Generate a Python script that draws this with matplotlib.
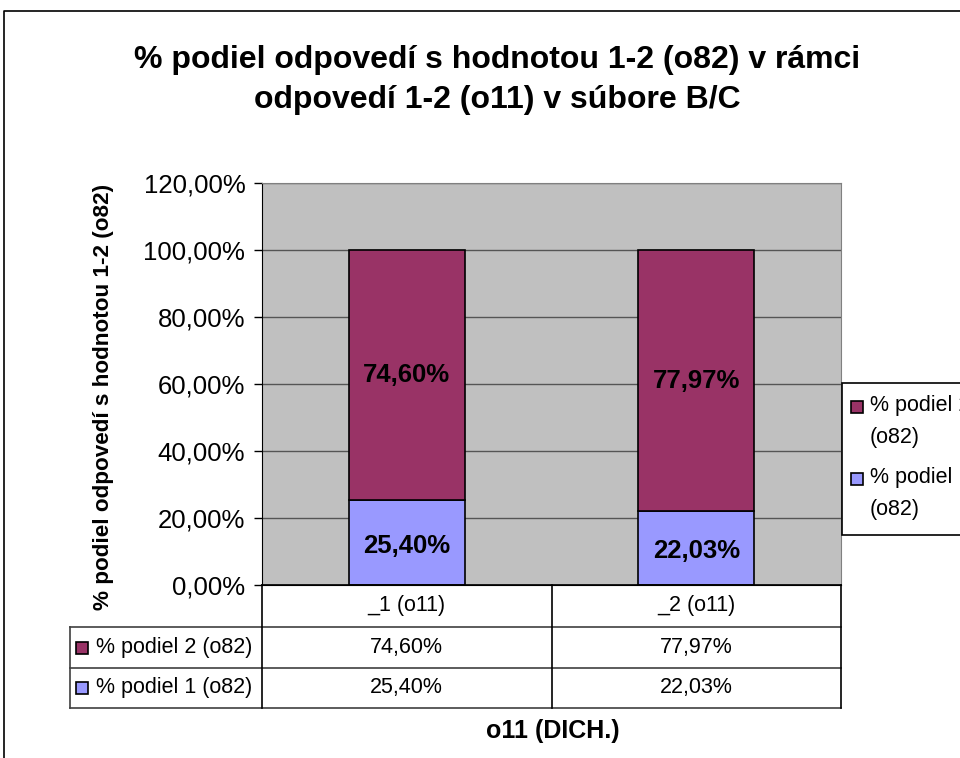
import matplotlib
matplotlib.use("Agg")
import matplotlib.pyplot as plt
from matplotlib.patches import Rectangle
from matplotlib.ticker import FuncFormatter

plt.rcParams['font.family'] = ['Liberation Sans', 'DejaVu Sans']

# data
categories = ["_1 (o11)", "_2 (o11)"]
series_names = ["% podiel 2 (o82)", "% podiel 1 (o82)"]
podiel1 = [25.40, 22.03]
podiel2 = [74.60, 77.97]
colors = {"% podiel 1 (o82)": "#9999FF", "% podiel 2 (o82)": "#993366"}
yticks = [0, 20, 40, 60, 80, 100, 120]

title = "% podiel odpovedí s hodnotou 1-2 (o82) v rámci\nodpovedí 1-2 (o11) v súbore B/C"
ylabel = "% podiel odpovedí s hodnotou 1-2 (o82)"
xlabel = "o11 (DICH.)"

W, H = 960, 758
fig = plt.figure(figsize=(W / 100, H / 100), dpi=100)


def rect(l, t, r, b):
    return [l / W, 1 - b / H, (r - l) / W, (b - t) / H]


def pct(v):
    return f"{v:.2f}".replace(".", ",") + "%"


# plot area
ax_l, ax_t, ax_r, ax_b = 262, 183, 841, 585
ax = fig.add_axes(rect(ax_l, ax_t, ax_r, ax_b))
ax.set_facecolor("#C0C0C0")
x = list(range(len(categories)))
ax.bar(x, podiel1, width=0.4, color=colors["% podiel 1 (o82)"], edgecolor="black", linewidth=1.2, zorder=3)
ax.bar(x, podiel2, width=0.4, bottom=podiel1, color=colors["% podiel 2 (o82)"],
       edgecolor="black", linewidth=1.2, zorder=3)
for i in x:
    ax.text(i, podiel1[i] / 2 - 1, pct(podiel1[i]), ha="center", va="center",
            fontsize=18.5, fontweight="bold", zorder=4)
    ax.text(i, podiel1[i] + podiel2[i] / 2, pct(podiel2[i]), ha="center", va="center",
            fontsize=18.5, fontweight="bold", zorder=4)
ax.set_xlim(-0.5, len(categories) - 0.5)
ax.set_ylim(0, 120)
ax.set_yticks(yticks)
ax.yaxis.set_major_formatter(FuncFormatter(lambda v, p: pct(v)))
ax.tick_params(axis="y", labelsize=18.5, length=6, width=1, direction="out", pad=6)
ax.set_xticks([])
ax.grid(axis="y", color="#555555", linewidth=1, zorder=1)
for s in ["top", "right"]:
    ax.spines[s].set_color("#808080")
for s in ["left", "bottom"]:
    ax.spines[s].set_color("black")
ax.set_ylabel(ylabel, fontsize=16.2, fontweight="bold")
ax.yaxis.set_label_coords(-(ax_l - 114) / (ax_r - ax_l), 0.468)

# overlay in pixel coordinates for table, legend, frame
ov = fig.add_axes([0, 0, 1, 1], zorder=5)
ov.set_xlim(0, W)
ov.set_ylim(H, 0)
ov.axis("off")
ov.patch.set_alpha(0)

# outer frame (clipped at the right and bottom)
ov.plot([4, 4, W + 5], [H + 5, 11, 11], color="black", linewidth=1.2, clip_on=False)

ov.text(497, 80, title, ha="center", va="center", fontsize=23, fontweight="bold",
        linespacing=1.4)

# data table
tab_l = 70
row_y = [585, 627, 668, 708]
ncol = len(categories)
col_w = (ax_r - ax_l) / ncol
col_edges = [ax_l + i * col_w for i in range(ncol + 1)]
lc = "#404040"
# horizontal lines
ov.plot([ax_l, ax_r], [row_y[0], row_y[0]], color="black", lw=1.2)
for yy in row_y[1:]:
    ov.plot([tab_l, ax_r], [yy, yy], color=lc, lw=1.2)
# vertical lines
for xe in col_edges:
    ov.plot([xe, xe], [row_y[0], row_y[-1]], color="black", lw=1.2)
ov.plot([tab_l, tab_l], [row_y[1], row_y[-1]], color=lc, lw=1.2)

fs_tab = 15.5
for j, cat in enumerate(categories):
    cx = (col_edges[j] + col_edges[j + 1]) / 2
    ov.text(cx, (row_y[0] + row_y[1]) / 2, cat, ha="center", va="center", fontsize=fs_tab)
table_rows = {"% podiel 2 (o82)": podiel2, "% podiel 1 (o82)": podiel1}
for r, name in enumerate(series_names):
    cy = (row_y[r + 1] + row_y[r + 2]) / 2
    ov.add_patch(Rectangle((76, cy - 6), 12, 12, facecolor=colors[name], edgecolor="black", lw=1.2))
    ov.text(96, cy, name, ha="left", va="center", fontsize=fs_tab)
    for j in range(ncol):
        cx = (col_edges[j] + col_edges[j + 1]) / 2
        ov.text(cx, cy, pct(table_rows[name][j]), ha="center", va="center", fontsize=fs_tab)

# legend (runs past the right edge, as in the original)
ov.add_patch(Rectangle((842, 383), 140, 152, facecolor="white", edgecolor="black", lw=1.2, clip_on=False))
leg_y = [407, 479]
for name, ly in zip(series_names, leg_y):
    ov.add_patch(Rectangle((851, ly - 6), 12, 12, facecolor=colors[name], edgecolor="black", lw=1.2))
    ov.text(870, ly - 12, name.replace(" (", "\n("), ha="left", va="top", fontsize=fs_tab,
            linespacing=1.7)

ov.text(553, 731, xlabel, ha="center", va="center", fontsize=18, fontweight="bold")

fig.savefig("out.png", dpi=100)
